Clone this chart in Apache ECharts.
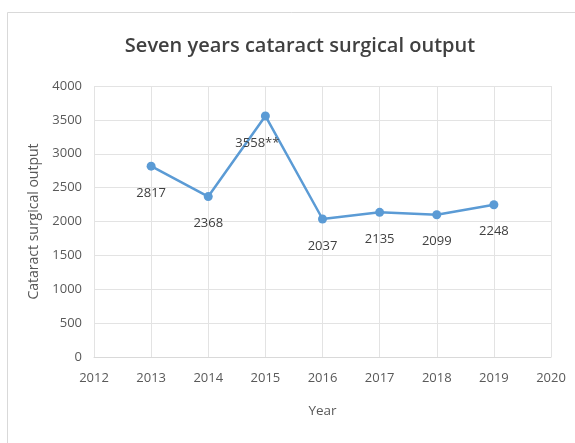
<!DOCTYPE html>
<html>
<head>
<meta charset="utf-8">
<script src="https://cdn.jsdelivr.net/npm/echarts@6/dist/echarts.min.js"></script>
<style>
  html, body { margin: 0; padding: 0; background: #fff; }
  #main { width: 575px; height: 443px; }
</style>
</head>
<body>
<div id="main"></div>
<script>
var years = [2013, 2014, 2015, 2016, 2017, 2018, 2019];
var output = [2817, 2368, 3558, 2037, 2135, 2099, 2248];
var notes = ['', '', '**', '', '', '', ''];

var seriesData = years.map(function (y, i) {
    return [y, output[i]];
});

var font = '"Open Sans", "Liberation Sans", sans-serif';

option = {
    backgroundColor: '#fff',
    animation: false,
    title: {
        text: 'Seven years cataract surgical output',
        left: 295,
        textAlign: 'center',
        top: 31,
        textStyle: {
            fontFamily: font,
            fontSize: 20,
            fontWeight: 600,
            color: '#404040'
        }
    },
    graphic: [{
        type: 'rect',
        shape: { x: 7.5, y: 12.5, width: 580, height: 440 },
        style: { fill: 'none', stroke: '#d9d9d9', lineWidth: 1 },
        silent: true
    }],
    grid: {
        left: 94,
        right: 24,
        top: 86,
        bottom: 86
    },
    xAxis: {
        type: 'value',
        min: 2012,
        max: 2020,
        interval: 1,
        name: 'Year',
        nameLocation: 'middle',
        nameGap: 47,
        nameTextStyle: { fontFamily: font, fontSize: 13.5, color: '#595959' },
        axisLine: { show: true, lineStyle: { color: '#d9d9d9' } },
        axisTick: { show: false },
        axisLabel: {
            fontFamily: font,
            fontSize: 13,
            color: '#595959',
            margin: 15,
            formatter: function (v) { return String(v); }
        },
        splitLine: { show: true, lineStyle: { color: '#e3e3e3' } }
    },
    yAxis: {
        type: 'value',
        min: 0,
        max: 4000,
        interval: 500,
        name: 'Cataract surgical output',
        nameLocation: 'middle',
        nameGap: 52,
        nameTextStyle: { fontFamily: font, fontSize: 14, color: '#595959' },
        axisLine: { show: false },
        axisTick: { show: false },
        axisLabel: {
            fontFamily: font,
            fontSize: 13,
            color: '#595959',
            margin: 12,
            formatter: function (v) { return String(v); }
        },
        splitLine: { show: true, lineStyle: { color: '#e3e3e3' } }
    },
    series: [{
        type: 'line',
        data: seriesData,
        color: '#5b9bd5',
        symbol: 'circle',
        symbolSize: 9,
        lineStyle: { width: 2.5, color: '#5b9bd5' },
        itemStyle: { color: '#5b9bd5' },
        label: {
            show: true,
            position: 'bottom',
            distance: 16,
            fontFamily: font,
            fontSize: 13,
            color: '#404040',
            formatter: function (p) {
                return output[p.dataIndex] + notes[p.dataIndex];
            }
        },
        labelLayout: function (params) {
            if (notes[params.dataIndex]) {
                return { dx: -8 };
            }
            return {};
        }
    }]
};

var myChart = echarts.init(document.getElementById('main'));
myChart.setOption(option);
</script>
</body>
</html>
